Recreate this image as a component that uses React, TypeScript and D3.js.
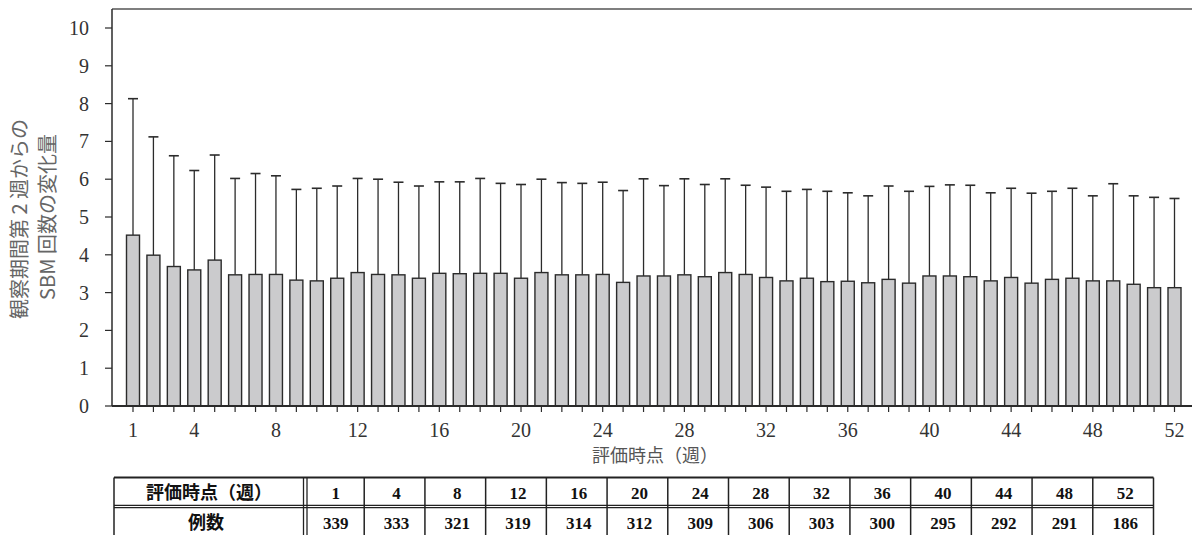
import React from "react";
import * as d3 from "d3";

const weeks: number[] = Array.from({ length: 52 }, (_, i) => i + 1);

const means: number[] = [
  4.52, 3.99, 3.69, 3.6, 3.86, 3.47, 3.48, 3.48, 3.33, 3.31,
  3.38, 3.53, 3.48, 3.47, 3.38, 3.51, 3.5, 3.51, 3.51, 3.38,
  3.53, 3.47, 3.47, 3.48, 3.27, 3.44, 3.44, 3.47, 3.42, 3.53,
  3.48, 3.4, 3.31, 3.38, 3.29, 3.3, 3.26, 3.35, 3.25, 3.44,
  3.44, 3.42, 3.31, 3.4, 3.25, 3.35, 3.38, 3.31, 3.31, 3.22,
  3.13, 3.13,
];

const upper: number[] = [
  8.13, 7.12, 6.62, 6.23, 6.64, 6.02, 6.15, 6.09, 5.73, 5.76,
  5.82, 6.02, 6.0, 5.92, 5.82, 5.93, 5.93, 6.02, 5.89, 5.86,
  6.0, 5.91, 5.89, 5.92, 5.7, 6.01, 5.83, 6.01, 5.86, 6.01,
  5.84, 5.79, 5.68, 5.73, 5.68, 5.64, 5.56, 5.82, 5.68, 5.81,
  5.85, 5.84, 5.64, 5.76, 5.63, 5.68, 5.76, 5.56, 5.88, 5.56,
  5.52, 5.49,
];

const xTickLabels: number[] = [1, 4, 8, 12, 16, 20, 24, 28, 32, 36, 40, 44, 48, 52];
const yTicks: number[] = [0, 1, 2, 3, 4, 5, 6, 7, 8, 9, 10];

const tableHeader = "評価時点（週）";
const tableRowLabel = "例数";
const tableWeeks: string[] = ["1", "4", "8", "12", "16", "20", "24", "28", "32", "36", "40", "44", "48", "52"];
const tableN: string[] = ["339", "333", "321", "319", "314", "312", "309", "306", "303", "300", "295", "292", "291", "186"];

const yLabel1 = "観察期間第 2 週からの";
const yLabel2 = "SBM 回数の変化量";
const xLabel = "評価時点（週）";

export default function App() {
  const W = 1192;
  const H = 535;
  const axisX = 112;
  const topY = 9;
  const x = d3.scaleLinear().domain([1, 52]).range([133, 1174.5]);
  const y = d3.scaleLinear().domain([0, 10]).range([406, 28]);
  const barW = 13;
  const capW = 10;
  const stroke = "#2b2b2b";
  const serif = "Liberation Serif, Times New Roman, DejaVu Serif, serif";
  const cjk = "Noto Sans CJK JP, Noto Sans, sans-serif";

  const tLeft = 114;
  const tSplit = 303.5;
  const tRight = 1153.5;
  const tTop = 477.5;
  const tMid = 506.5;
  const tBot = 536;
  const colW = (tRight - tSplit) / tableWeeks.length;

  return (
    <svg
      width={W}
      height={H}
      style={{ position: "absolute", left: 0, top: 0, background: "#fff" }}
    >
      <rect x={0} y={0} width={W} height={H} fill="#fff" />
      {/* frame */}
      <line x1={axisX} y1={topY} x2={W} y2={topY} stroke="#555" strokeWidth={1.5} />
      <line x1={axisX} y1={topY} x2={axisX} y2={y(0)} stroke={stroke} strokeWidth={1.5} />

      {/* bars */}
      {weeks.map((w, i) => (
        <g key={w}>
          <line
            x1={x(w)}
            x2={x(w)}
            y1={y(means[i])}
            y2={y(upper[i])}
            stroke={stroke}
            strokeWidth={1.3}
          />
          <line
            x1={x(w) - capW / 2}
            x2={x(w) + capW / 2}
            y1={y(upper[i])}
            y2={y(upper[i])}
            stroke={stroke}
            strokeWidth={1.6}
          />
          <rect
            x={x(w) - barW / 2}
            y={y(means[i])}
            width={barW}
            height={y(0) - y(means[i])}
            fill="#cbcbcd"
            stroke={stroke}
            strokeWidth={1.4}
          />
        </g>
      ))}

      {/* x axis */}
      <line x1={axisX} y1={y(0)} x2={W} y2={y(0)} stroke={stroke} strokeWidth={2} />
      {weeks.map((w) => (
        <line key={"t" + w} x1={x(w)} x2={x(w)} y1={y(0)} y2={y(0) + 6} stroke={stroke} strokeWidth={1.2} />
      ))}
      {xTickLabels.map((w) => (
        <text
          key={"xl" + w}
          x={x(w)}
          y={437}
          textAnchor="middle"
          fontFamily={serif}
          fontSize={20}
          fill="#333"
        >
          {w}
        </text>
      ))}
      <text x={655} y={462} textAnchor="middle" fontFamily={cjk} fontSize={18} fill="#555">
        {xLabel}
      </text>

      {/* y axis */}
      {yTicks.map((t) => (
        <g key={"y" + t}>
          <line x1={axisX - 7} x2={axisX} y1={y(t)} y2={y(t)} stroke={stroke} strokeWidth={1.2} />
          <text
            x={89}
            y={y(t) + 7}
            textAnchor="end"
            fontFamily={serif}
            fontSize={20}
            fill="#333"
          >
            {t}
          </text>
        </g>
      ))}
      <g transform="translate(20,219) rotate(-90)">
        <text x={0} y={7} textAnchor="middle" fontFamily={cjk} fontSize={20} fill="#666">
          {yLabel1}
        </text>
      </g>
      <g transform="translate(48,217) rotate(-90)">
        <text x={0} y={7} textAnchor="middle" fontFamily={cjk} fontSize={20} fill="#666">
          {yLabel2}
        </text>
      </g>

      {/* table */}
      <g>
        <line x1={tLeft} x2={tRight} y1={tTop} y2={tTop} stroke="#222" strokeWidth={2} />
        <line x1={tLeft} x2={tRight} y1={tMid - 1.2} y2={tMid - 1.2} stroke="#222" strokeWidth={1.3} />
        <line x1={tLeft} x2={tRight} y1={tMid + 1.2} y2={tMid + 1.2} stroke="#222" strokeWidth={1.3} />
        <line x1={tLeft} x2={tLeft} y1={tTop} y2={tBot} stroke="#222" strokeWidth={1.5} />
        <line x1={tSplit} x2={tSplit} y1={tTop} y2={tBot} stroke="#222" strokeWidth={1.3} />
        <line x1={tSplit + 3.5} x2={tSplit + 3.5} y1={tTop} y2={tBot} stroke="#222" strokeWidth={1.3} />
        {tableWeeks.map((_, i) => (
          <line
            key={"c" + i}
            x1={tSplit + colW * (i + 1)}
            x2={tSplit + colW * (i + 1)}
            y1={tTop}
            y2={tBot}
            stroke="#222"
            strokeWidth={1.5}
          />
        ))}
        <text x={209} y={499} textAnchor="middle" fontFamily={cjk} fontWeight={700} fontSize={18} fill="#111">
          {tableHeader}
        </text>
        <text x={206} y={529} textAnchor="middle" fontFamily={cjk} fontWeight={700} fontSize={18} fill="#111">
          {tableRowLabel}
        </text>
        {tableWeeks.map((s, i) => (
          <text
            key={"tw" + i}
            x={tSplit + 2 + colW * (i + 0.5)}
            y={499}
            textAnchor="middle"
            fontFamily={serif}
            fontWeight={700}
            fontSize={17}
            fill="#111"
          >
            {s}
          </text>
        ))}
        {tableN.map((s, i) => (
          <text
            key={"tn" + i}
            x={tSplit + 2 + colW * (i + 0.5)}
            y={529}
            textAnchor="middle"
            fontFamily={serif}
            fontWeight={700}
            fontSize={17}
            fill="#111"
          >
            {s}
          </text>
        ))}
      </g>
    </svg>
  );
}
